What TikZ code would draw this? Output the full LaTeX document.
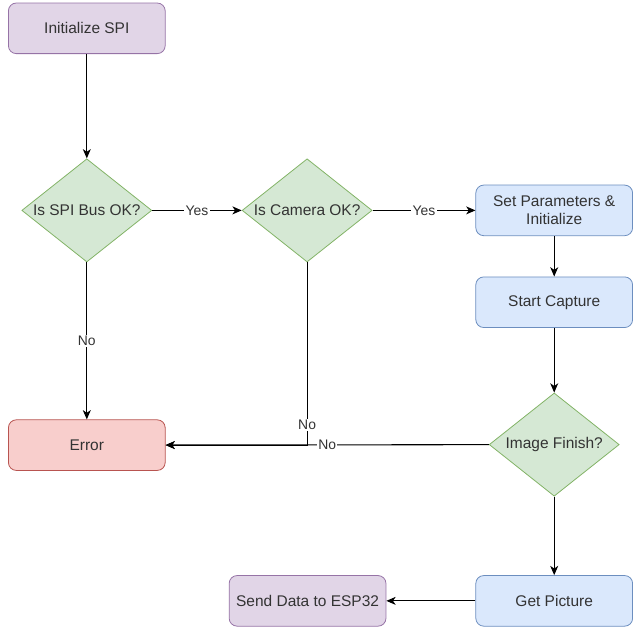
\documentclass[tikz,border=0pt]{standalone}
\usepackage{fontspec}
\setmainfont{Liberation Sans}
\usepackage{tikz}
\usetikzlibrary{positioning,arrows.meta,calc,shapes.geometric}

\definecolor{purpfill}{HTML}{E1D5E7}
\definecolor{purpdraw}{HTML}{9673A6}
\definecolor{greenfill}{HTML}{D5E8D4}
\definecolor{greendraw}{HTML}{82B366}
\definecolor{bluefill}{HTML}{DAE8FC}
\definecolor{bluedraw}{HTML}{6C8EBF}
\definecolor{redfill}{HTML}{F8CECC}
\definecolor{reddraw}{HTML}{B85450}

\begin{document}
\begin{tikzpicture}[
  on grid, >={Stealth[length=7pt,width=6pt,inset=2pt]}, line width=0.8pt,
  every node/.style={font=\fontsize{11.7}{14}\selectfont, text=black!80},
  box/.style={rectangle, rounded corners=6pt, minimum width=118.5pt, minimum height=38.25pt, line width=0.6pt},
  startbox/.style={box, fill=purpfill, draw=purpdraw},
  procbox/.style={box, fill=bluefill, draw=bluedraw},
  errbox/.style={box, fill=redfill, draw=reddraw},
  decision/.style={diamond, fill=greenfill, draw=greendraw, line width=0.6pt, minimum width=98.25pt, minimum height=78pt, inner sep=0pt},
  lbl/.style={fill=white, inner sep=1pt, font=\fontsize{10.5}{12}\selectfont}
]

  \node[startbox] (init) {Initialize SPI};
  \node[decision, label={center:Is SPI Bus OK?}] (spiok) [below=137.6pt of init] {};
  \node[decision, label={center:Is Camera OK?}] (camok) [right=166.5pt of spiok] {};
  \node[procbox, align=center] (setparam) [right=186.75pt of camok] {Set Parameters \&\\Initialize};
  \node[procbox] (capture) [below=69.4pt of setparam] {Start Capture};
  \node[decision, label={center:Image Finish?}] (imgdone) [below=107.6pt of capture] {};
  \node[errbox] (error) [below=177.4pt of spiok] {Error};
  \node[procbox] (getpic) [below=118.1pt of imgdone] {Get Picture};
  \node[startbox] (senddata) [left=186.4pt of getpic] {Send Data to ESP32};

  \path[->] (init) edge (spiok)
    (spiok) edge node[lbl] {Yes} (camok)
    (camok) edge node[lbl] {Yes} (setparam)
    (setparam) edge (capture)
    (capture) edge (imgdone)
    (spiok) edge node[lbl] {No} (error)
    (imgdone) edge node[lbl] {No} (error)
    (imgdone) edge (getpic)
    (getpic) edge (senddata);
  \draw[->] (camok) |- node[lbl, pos=0.445] {No} (error);

  \useasboundingbox ($(init.center)+(-65.6pt,21.4pt)$) rectangle ($(init.center)+(409.1pt,-451.9pt)$);

\end{tikzpicture}
\end{document}
